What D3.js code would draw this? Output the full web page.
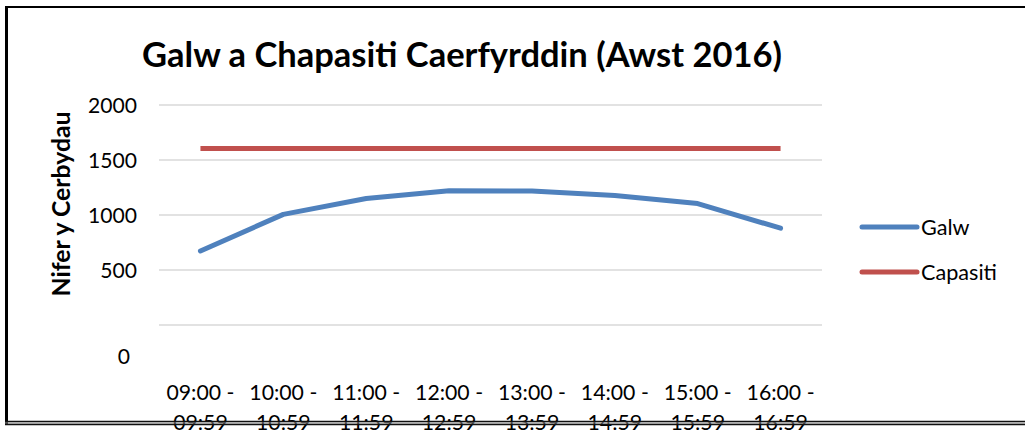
<!DOCTYPE html>
<html>
<head>
<meta charset="utf-8">
<script src="https://cdn.jsdelivr.net/npm/d3@7"></script>
<style>
  html, body { margin: 0; padding: 0; background: #fff; }
  svg { display: block; }
  text { font-family: Lato, "Open Sans", sans-serif; fill: #000; }
</style>
</head>
<body>
<svg id="chart" width="1025" height="431"></svg>
<script>
const categories = ["09:00 - 09:59", "10:00 - 10:59", "11:00 - 11:59", "12:00 - 12:59",
                    "13:00 - 13:59", "14:00 - 14:59", "15:00 - 15:59", "16:00 - 16:59"];
const galw = [673, 1006, 1150, 1220, 1218, 1178, 1104, 880];
const capasiti = [1605, 1605, 1605, 1605, 1605, 1605, 1605, 1605];
const yTicks = [0, 500, 1000, 1500, 2000];
const titleText = "Galw a Chapasiti Caerfyrddin (Awst 2016)";
const yTitle = "Nifer y Cerbydau";
const seriesNames = ["Galw", "Capasiti"];
const colors = ["#4F81BD", "#C0504D"];

const svg = d3.select("#chart");

function fit(sel, target, start) {
  sel.style("font-size", start + "px");
  const w = sel.node().getComputedTextLength();
  const s = start * target / w;
  sel.style("font-size", s + "px");
  return s;
}

// frame
svg.append("line").attr("x1", 6.5).attr("x2", 6.5).attr("y1", 6).attr("y2", 424)
  .attr("stroke", "#000").attr("stroke-width", 3);
svg.append("line").attr("x1", 5).attr("x2", 1025).attr("y1", 7).attr("y2", 7)
  .attr("stroke", "#000").attr("stroke-width", 2);

const plot = { left: 159, right: 822, top: 105, bottom: 325 };

const x = d3.scaleBand().domain(categories).range([plot.left, plot.right]);
const y = d3.scaleLinear().domain([0, 2000]).range([plot.bottom, plot.top]);

// gridlines
svg.append("g").selectAll("line").data(yTicks).join("line")
  .attr("x1", plot.left).attr("x2", plot.right)
  .attr("y1", d => y(d)).attr("y2", d => y(d))
  .attr("stroke", "#D9D9D9").attr("stroke-width", 1.6);

// y axis labels
const yAxis = d3.axisLeft(y).tickValues(yTicks).tickFormat(d3.format("d")).tickSize(0).tickPadding(0);
const gy = svg.append("g").attr("transform", "translate(137,0)").call(yAxis);
gy.select(".domain").remove();
gy.selectAll("text").attr("font-family", null).attr("font-size", null).attr("fill", "#000");
const tickSize = fit(gy.selectAll("text").filter(d => d === 2000), 49, 20);
gy.selectAll("text").style("font-size", tickSize + "px").attr("dy", "0.36em");
gy.selectAll(".tick").filter(d => d === 0).select("text").attr("transform", "translate(-7,31)");

// x axis labels (two lines)
const gx = svg.append("g");
const xl = gx.selectAll("text").data(categories).join("text")
  .attr("text-anchor", "middle")
  .attr("x", d => x(d) + x.bandwidth() / 2);
xl.append("tspan").attr("x", d => x(d) + x.bandwidth() / 2).attr("y", 400)
  .text(d => d.split(" - ")[0] + " -");
xl.append("tspan").attr("x", d => x(d) + x.bandwidth() / 2).attr("y", 430)
  .text(d => d.split(" - ")[1]);
const tmp = gx.append("text").text("09:00 -");
const xs = fit(tmp, 68, 20);
tmp.remove();
xl.style("font-size", xs + "px");

// bottom double frame line (drawn over the labels, as in the reference)
svg.append("line").attr("x1", 5).attr("x2", 1025).attr("y1", 421.5).attr("y2", 421.5)
  .attr("stroke", "#111").attr("stroke-width", 1.5);
svg.append("line").attr("x1", 5).attr("x2", 1025).attr("y1", 423).attr("y2", 423)
  .attr("stroke", "#999").attr("stroke-width", 1);
svg.append("line").attr("x1", 5).attr("x2", 1025).attr("y1", 424.5).attr("y2", 424.5)
  .attr("stroke", "#111").attr("stroke-width", 1.5);

// lines
const line = d3.line().x((d, i) => x(categories[i]) + x.bandwidth() / 2).y(d => y(d));
[galw, capasiti].forEach((vals, k) => {
  svg.append("path").datum(vals).attr("d", line)
    .attr("fill", "none").attr("stroke", colors[k]).attr("stroke-width", 5)
    .attr("stroke-linejoin", "round").attr("stroke-linecap", k === 0 ? "round" : "butt");
});

// title
const t = svg.append("text").attr("x", 462).attr("y", 67).attr("text-anchor", "middle")
  .attr("font-weight", "bold").text(titleText);
fit(t, 640, 30);

// y title
const yt = svg.append("text").attr("transform", "translate(70,204) rotate(-90)")
  .attr("text-anchor", "middle").attr("font-weight", "bold").text(yTitle);
fit(yt, 185, 18);

// legend
const legY = [227, 272];
seriesNames.forEach((n, k) => {
  svg.append("line").attr("x1", 862).attr("x2", 917).attr("y1", legY[k]).attr("y2", legY[k])
    .attr("stroke", colors[k]).attr("stroke-width", 5).attr("stroke-linecap", "round");
  svg.append("text").attr("class", "leg" + k).attr("x", 921).attr("y", legY[k])
    .attr("dy", "0.35em").text(n);
});
fit(svg.select(".leg1"), 76, 20);
svg.select(".leg0").style("font-size", svg.select(".leg1").style("font-size"));
</script>
</body>
</html>
